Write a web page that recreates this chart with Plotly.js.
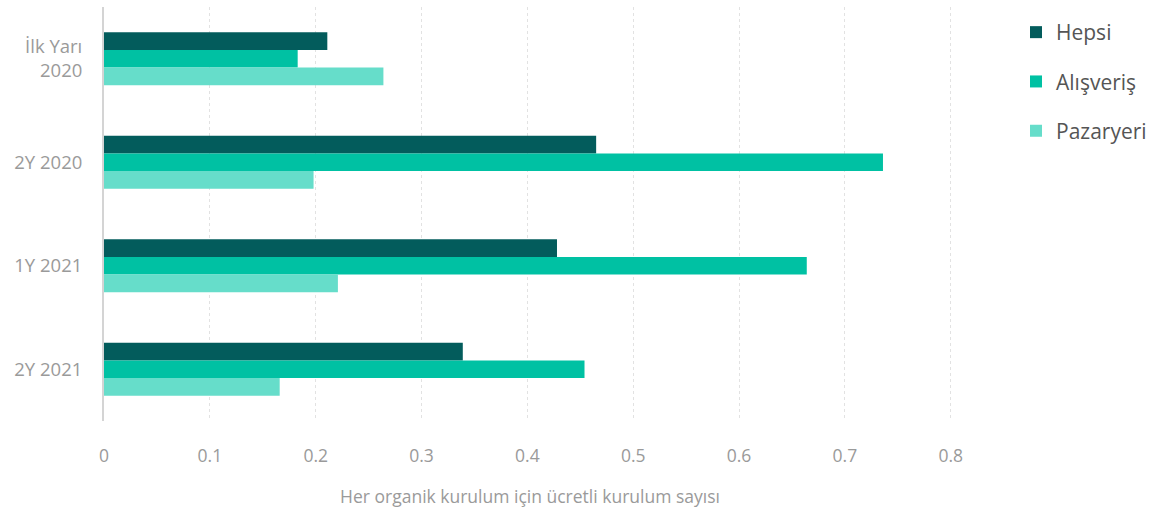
<!DOCTYPE html>
<html><head><meta charset="utf-8">
<script src="https://cdn.plot.ly/plotly-3.0.1.min.js"></script>
<style>html,body{margin:0;padding:0;background:#fff;}#chart{width:1161px;height:511px;}</style>
</head><body><div id="chart"></div>
<script>
const categories = ["İlk Yarı<br>2020", "2Y 2020", "1Y 2021", "2Y 2021"];
const seriesNames = ["Hepsi", "Alışveriş", "Pazaryeri"];
const hepsi = [0.211, 0.465, 0.428, 0.339];
const alisveris = [0.183, 0.736, 0.664, 0.454];
const pazaryeri = [0.264, 0.198, 0.221, 0.166];
const colors = ["#035c5c", "#00c1a3", "#66ddca"];
const xTicks = [0, 0.1, 0.2, 0.3, 0.4, 0.5, 0.6, 0.7, 0.8];
const xTitle = "Her organik kurulum için ücretli kurulum sayısı";

const vals = [hepsi, alisveris, pazaryeri];
const traces = vals.map((v, i) => ({
  type: 'bar', orientation: 'h', name: seriesNames[i], x: v, y: categories,
  marker: {color: colors[i]}, legendgroup: 'g' + i, hoverinfo: 'x+name'
}));

const layout = {
  width: 1161, height: 511,
  margin: {l: 104, r: 205, t: 7, b: 90},
  paper_bgcolor: '#fff', plot_bgcolor: '#fff',
  font: {family: '"Open Sans", sans-serif', color: '#999'},
  barmode: 'group', bargap: 0.49, bargroupgap: 0,
  xaxis: {
    range: [0, 0.805], tickvals: xTicks, ticktext: xTicks.map(String),
    showgrid: true, gridcolor: '#e2e2e2', griddash: 'dot', gridwidth: 1,
    zeroline: false, showline: false, ticks: '', ticklabelstandoff: 22,
    tickfont: {size: 17.5, color: '#9a9a9a'},
    title: {text: xTitle, font: {size: 17.5, color: '#9a9a9a'}, standoff: 25}
  },
  yaxis: {
    autorange: 'reversed', showgrid: false, zeroline: false,
    showline: true, linecolor: '#d4d4d4', linewidth: 2, ticks: '',
    ticklabelstandoff: 16, tickfont: {size: 18.5, color: '#9a9a9a'}
  },
  legend: {
    xref: 'container', yref: 'container', x: 1016/1161, y: 1 - 12/511,
    xanchor: 'left', yanchor: 'top', tracegroupgap: 19,
    font: {size: 21, color: '#555'}, bgcolor: 'rgba(0,0,0,0)'
  },
  showlegend: true
};
Plotly.newPlot('chart', traces, layout, {displayModeBar: false, staticPlot: true});
</script>
</body></html>
